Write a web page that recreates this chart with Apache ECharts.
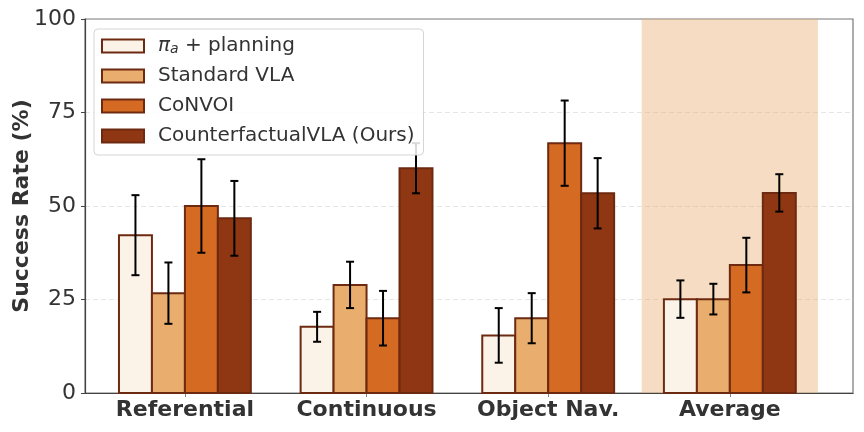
<!DOCTYPE html>
<html>
<head>
<meta charset="utf-8">
<script src="https://cdn.jsdelivr.net/npm/echarts@6/dist/echarts.min.js"></script>
<style>
  html, body { margin: 0; padding: 0; background: #fff; }
  #chart { width: 864px; height: 432px; }
</style>
</head>
<body>
<div id="chart"></div>
<script>
// categories and values
const categories = ['Referential', 'Continuous', 'Object Nav.', 'Average'];
const seriesNames = ['\u03c0a + planning', 'Standard VLA', 'CoNVOI', 'CounterfactualVLA (Ours)'];
const piPlanning     = [42.2, 17.7, 15.4, 25.1];
const piPlanningErr  = [10.7, 4.0, 7.3, 5.0];
const standardVLA    = [26.7, 28.9, 20.0, 25.1];
const standardVLAErr = [8.2, 6.2, 6.7, 4.1];
const convoi         = [50.0, 20.0, 66.8, 34.2];
const convoiErr      = [12.5, 7.3, 11.4, 7.3];
const counterfactual    = [46.7, 60.1, 53.4, 53.5];
const counterfactualErr = [10.0, 6.7, 9.4, 5.0];
const yTicks = [0, 25, 50, 75, 100];
const highlightSpan = [2.515, 3.485];

const values = [piPlanning, standardVLA, convoi, counterfactual];
const errors = [piPlanningErr, standardVLAErr, convoiErr, counterfactualErr];
const fills = ['#fcf3e8', '#e9ad6e', '#d56a22', '#8f3612'];
const edge = '#6e2a10';
const barW = 0.1815;
const font = 'DejaVu Sans';

const chart = echarts.init(document.getElementById('chart'));

const series = [];
// shaded "Average" column
series.push({
  type: 'custom',
  silent: true,
  z: 1,
  data: [highlightSpan],
  renderItem: function (params, api) {
    const p0 = api.coord([api.value(0), 100]);
    const p1 = api.coord([api.value(1), 0]);
    return {
      type: 'rect',
      shape: { x: p0[0], y: p0[1], width: p1[0] - p0[0], height: p1[1] - p0[1] },
      style: { fill: 'rgba(232,172,110,0.42)' }
    };
  }
});

values.forEach(function (vals, s) {
  const offset = (s - 1.5) * barW;
  series.push({
    name: seriesNames[s],
    type: 'custom',
    z: 2,
    itemStyle: { color: fills[s], borderColor: edge, borderWidth: 2 },
    data: vals.map(function (v, i) { return [i, v, errors[s][i]]; }),
    renderItem: function (params, api) {
      const x = api.value(0) + offset;
      const v = api.value(1);
      const e = api.value(2);
      const p0 = api.coord([x - barW / 2, v]);
      const p1 = api.coord([x + barW / 2, 0]);
      const top = api.coord([x, v + e]);
      const bot = api.coord([x, v - e]);
      const cap = 4;
      const err = { stroke: '#000', lineWidth: 2 };
      return {
        type: 'group',
        children: [
          {
            type: 'rect',
            shape: { x: p0[0], y: p0[1], width: p1[0] - p0[0], height: p1[1] - p0[1] },
            style: { fill: fills[s], stroke: edge, lineWidth: 2 }
          },
          { type: 'line', z2: 5, shape: { x1: top[0], y1: top[1], x2: bot[0], y2: bot[1] }, style: err },
          { type: 'line', z2: 5, shape: { x1: top[0] - cap, y1: top[1], x2: top[0] + cap, y2: top[1] }, style: err },
          { type: 'line', z2: 5, shape: { x1: bot[0] - cap, y1: bot[1], x2: bot[0] + cap, y2: bot[1] }, style: err }
        ]
      };
    }
  });
});

const option = {
  animation: false,
  grid: {
    left: 85, right: 11, top: 19, bottom: 39,
    containLabel: false,
    outerBoundsMode: 'none',
    show: true, borderColor: '#777', borderWidth: 1.2, backgroundColor: 'transparent'
  },
  legend: {
    left: 94,
    top: 29,
    orient: 'vertical',
    itemWidth: 42,
    itemHeight: 13,
    itemGap: 10,
    padding: [7, 9, 9, 7],
    backgroundColor: 'rgba(255,255,255,0.85)',
    borderColor: '#d4d4d4',
    borderWidth: 1,
    borderRadius: 4,
    data: seriesNames.map(function (n, i) {
      return { name: n, icon: 'rect', itemStyle: { color: fills[i], borderColor: edge, borderWidth: 2 } };
    }),
    formatter: function (name) {
      if (name === seriesNames[0]) return '{pi|\u03c0}{sub|a}{t| + planning}';
      return name;
    },
    textStyle: {
      fontFamily: font,
      fontSize: 20,
      lineHeight: 20,
      color: '#333',
      padding: [0, 0, 0, 9],
      rich: {
        pi: { fontFamily: font, fontSize: 20, fontStyle: 'italic', color: '#333' },
        sub: { fontFamily: font, fontSize: 14, fontStyle: 'italic', color: '#333', verticalAlign: 'bottom', padding: [10, 0, 0, 0] },
        t: { fontFamily: font, fontSize: 20, color: '#333' }
      }
    }
  },
  xAxis: {
    type: 'value',
    min: -0.55,
    max: 3.678,
    splitLine: { show: false },
    axisLine: { show: true, onZero: false, lineStyle: { color: '#444', width: 1.2 } },
    axisTick: { show: true, customValues: [0, 1, 2, 3], length: 4, lineStyle: { color: '#888' } },
    axisLabel: {
      customValues: [0, 1, 2, 3],
      formatter: function (v) { return categories[Math.round(v)]; },
      fontFamily: font,
      fontSize: 22,
      fontWeight: 'bold',
      color: '#333',
      margin: 6
    }
  },
  yAxis: {
    type: 'value',
    min: 0,
    max: 100,
    interval: 25,
    name: 'Success Rate (%)',
    nameLocation: 'middle',
    nameGap: 52,
    nameMoveOverlap: false,
    nameTextStyle: { fontFamily: font, fontSize: 22, fontWeight: 'bold', color: '#333' },
    axisLine: { show: true, onZero: false, lineStyle: { color: '#444', width: 1.2 } },
    axisTick: { show: true, length: 4, lineStyle: { color: '#444' } },
    axisLabel: {
      fontFamily: font,
      fontSize: 22,
      color: '#333',
      margin: 9,
      formatter: function (v) { return yTicks.indexOf(v) >= 0 ? String(v) : ''; }
    },
    splitLine: {
      show: true, showMinLine: false, showMaxLine: false,
      lineStyle: { color: '#e6e6e6', type: [5, 3], width: 1 }
    }
  },
  series: series
};

chart.setOption(option);
</script>
</body>
</html>
